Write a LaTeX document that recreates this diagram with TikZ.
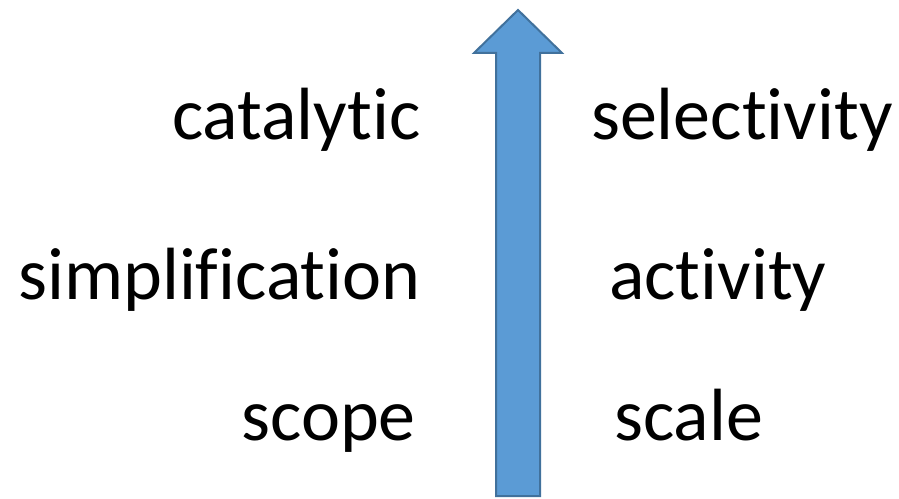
\documentclass[tikz,border=0pt]{standalone}
\usepackage{fontspec}
\setmainfont[Ligatures={NoCommon,NoRequired,NoContextual}]{Carlito}
\begin{document}
\begin{tikzpicture}[x=1pt,y=1pt,
  lbl/.style={inner sep=0pt,font=\fontsize{74}{80}\selectfont},
  arr/.style={fill={rgb,255:red,91;green,155;blue,213},draw={rgb,255:red,65;green,113;blue,156},line width=2pt,line join=miter}]
\useasboundingbox (0,0) rectangle (899,498);
\draw[arr] (496,2) -- (540,2) -- (540,445) -- (562,445) -- (518,488) -- (474,445) -- (496,445) -- cycle;
\node[lbl,anchor=base east] (cat) at (421,358) {catalytic};
\node[lbl,anchor=base west] (sel) at (591,358) {selectivity};
\node[lbl,anchor=base east] (sim) at (421,198) {simplification};
\node[lbl,anchor=base west] (act) at (609,198) {activity};
\node[lbl,anchor=base east] (sco) at (416,58) {scope};
\node[lbl,anchor=base west] (sca) at (614,58) {scale};
\end{tikzpicture}
\end{document}
